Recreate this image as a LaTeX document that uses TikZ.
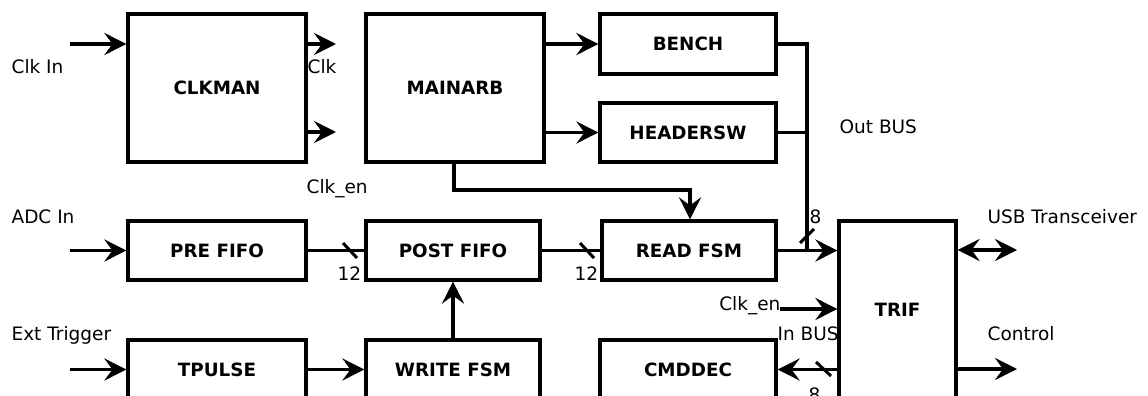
\documentclass[tikz,border=0pt]{standalone}
\usepackage{fontspec}
\setmainfont{DejaVu Sans}
\usetikzlibrary{arrows.meta}
\begin{document}
\begin{tikzpicture}[x=1pt,y=-1pt, line width=3.2pt,
  blk/.style={draw, line width=3.2pt, font=\bfseries\fontsize{18.3}{20}\selectfont, inner sep=0pt},
  lbl/.style={font=\fontsize{18.5}{20}\selectfont, inner sep=0pt, anchor=base west},
  lblr/.style={font=\fontsize{18.5}{20}\selectfont, inner sep=0pt, anchor=base east},
  hd/.style={Stealth[length=22pt,width=22pt,inset=8pt]},
  arr/.style={-{Stealth[length=22pt,width=22pt,inset=8pt]}},
  darr/.style={{Stealth[length=22pt,width=22pt,inset=8pt]}-{Stealth[length=22pt,width=22pt,inset=8pt]}},
  tick/.style={line width=3pt}]
\useasboundingbox (0,0) rectangle (1148,396);
\clip (0,0) rectangle (1148,396);
\fill[white] (0,0) rectangle (1148,396);
% blocks
\node[blk, minimum width=178pt, minimum height=148pt] (clkman) at (217,88) {CLKMAN};
\node[blk, minimum width=178pt, minimum height=148pt] (mainarb) at (455,88) {MAINARB};
\node[blk, minimum width=176pt, minimum height=60pt] (bench) at (688,44) {BENCH};
\node[blk, minimum width=176pt, minimum height=59pt] (headersw) at (688,132.5) {HEADERSW};
\node[blk, minimum width=178pt, minimum height=59pt] (prefifo) at (217,250.5) {PRE FIFO};
\node[blk, minimum width=174pt, minimum height=59pt] (postfifo) at (453,250.5) {POST FIFO};
\node[blk, minimum width=174pt, minimum height=59pt] (readfsm) at (689,250.5) {READ FSM};
\node[blk, minimum width=178pt, minimum height=59pt] (tpulse) at (217,369.5) {TPULSE};
\node[blk, minimum width=174pt, minimum height=59pt] (writefsm) at (453,369.5) {WRITE FSM};
\node[blk, minimum width=176pt, minimum height=59pt] (cmddec) at (688,369.5) {CMDDEC};
\node[blk, minimum width=117pt, minimum height=178pt] (trif) at (897.5,310) {TRIF};
% free ends
\coordinate (clkin) at (70,44);
\coordinate (adcin) at (70,250.5);
\coordinate (extin) at (70,369.5);
\coordinate (clkout) at (336,44);
\coordinate (clkenout) at (336,132);
\coordinate (busx) at (807,0);
\coordinate (usb) at (1017,250);
\coordinate (ctrl) at (1017,369);
\coordinate (clkenin) at (780,309);
\coordinate (mbend) at (0,190);
% connectors
\draw[arr] (clkin) -- (clkin -| clkman.west);
\draw[arr] (adcin) -- (adcin -| prefifo.west);
\draw[arr] (extin) -- (extin -| tpulse.west);
\draw[arr] (clkout -| clkman.east) -- (clkout);
\draw[arr] (clkenout -| clkman.east) -- (clkenout);
\draw[arr] (mainarb.east |- bench.west) -- (bench.west);
\draw[arr] (mainarb.east |- headersw.west) -- (headersw.west);
\draw[line join=miter] (bench.east) -- (bench.east -| busx) -- (busx |- readfsm.east);
\draw (headersw.east) -- (headersw.east -| busx);
\draw[arr] (readfsm.east) -- (readfsm.east -| trif.west);
\draw[arr] (clkenin) -- (clkenin -| trif.west);
\draw[arr] (cmddec.east -| trif.west) -- (cmddec.east);
\draw[darr] (usb -| trif.east) -- (usb);
\draw[arr] (ctrl -| trif.east) -- (ctrl);
\draw[arr, line join=miter] (mainarb.south -| 454,0) -- (mbend -| 454,0) -- (mbend -| 690,0) -- (readfsm.north -| 690,0);
\draw (prefifo.east) -- (postfifo.west);
\draw (postfifo.east) -- (readfsm.west);
\draw[arr] (tpulse.east) -- (writefsm.west);
\draw[arr] (writefsm.north) -- (postfifo.south);
% bus ticks
\draw[tick] (343,243) -- (357,258);
\draw[tick] (580,243) -- (594,258);
\draw[tick] (800,243) -- (814,229);
\draw[tick] (816,362) -- (831,376);
% labels
\node[lbl] (tclkin) at (10,74) {Clk In};
\node[lbl] (tclk) at (306,74) {Clk};
\node[lbl] (tclken) at (305,193) {Clk\_en};
\node[lbl] (tadc) at (10,223) {ADC In};
\node[lbl] (text) at (10,340) {Ext Trigger};
\node[lbl] (tout) at (838,133) {Out BUS};
\node[lbl] (tusb) at (986,223) {USB Transceiver};
\node[lbl] (tctrl) at (986,340) {Control};
\node[lblr] (tclken2) at (782,310) {Clk\_en};
\node[lbl] (tinbus) at (776,340) {In BUS};
\node[lbl] (t8a) at (808,223) {8};
\node[lbl] (t8b) at (807,401) {8};
\node[lbl] (t12a) at (336,280) {12};
\node[lbl] (t12b) at (573,280) {12};
\end{tikzpicture}
\end{document}
